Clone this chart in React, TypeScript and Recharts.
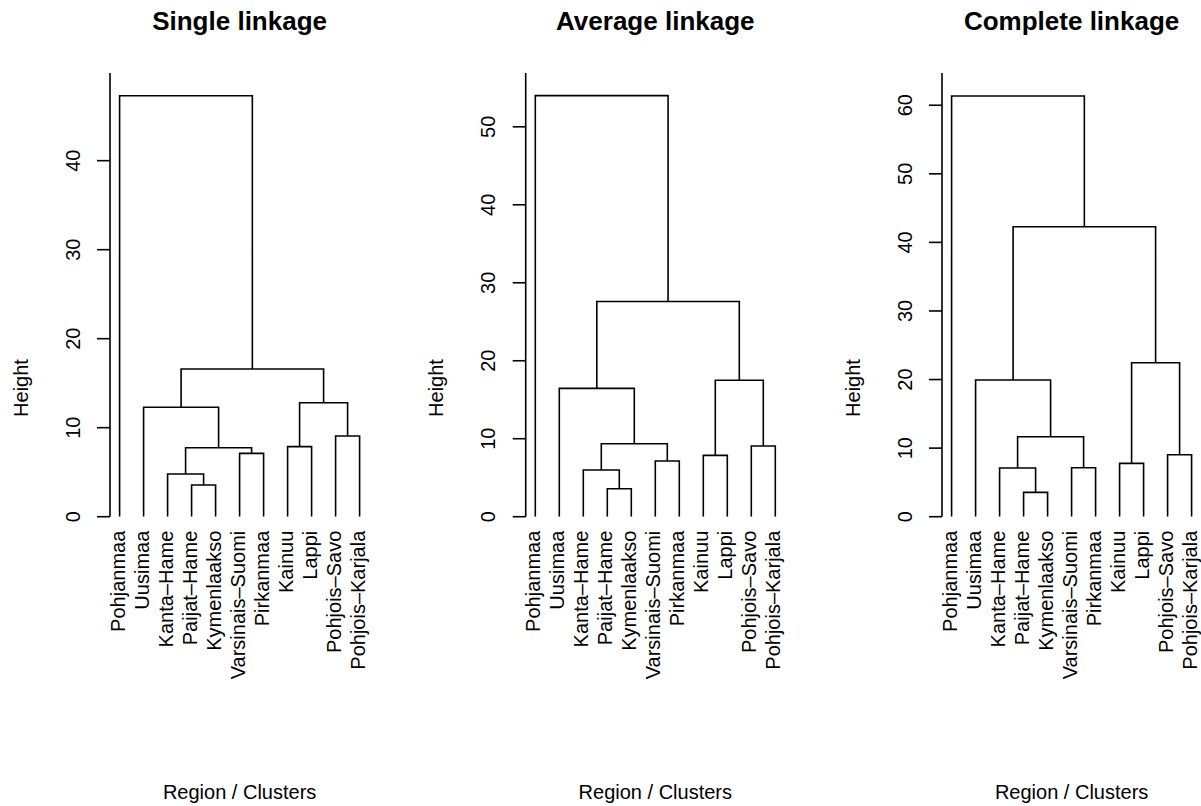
import React from 'react';
import { LineChart, Line, XAxis, YAxis } from 'recharts';

const FONT = '"Liberation Sans", Arial, Helvetica, sans-serif';

const LEAVES = ['Pohjanmaa','Uusimaa','Kanta–Hame','Paijat–Hame','Kymenlaakso','Varsinais–Suomi','Pirkanmaa','Kainuu','Lappi','Pohjois–Savo','Pohjois–Karjala'];
const LEAF_POS = [1,2,3,4,5,6,7,8,9,10,11];

// hclust-style merge table: negative = leaf (1-based position), positive = earlier merge row
const MERGE_A = [-4,-3,-6,-8,-10,2,-2,4,7,-1];
const MERGE_B = [-5,1,-7,-9,-11,3,6,5,8,9];

const SINGLE_H = [3.56,4.8,7.12,7.87,9.07,7.75,12.3,12.8,16.6,47.3];
const AVERAGE_H = [3.59,5.99,7.14,7.87,9.06,9.36,16.46,17.5,27.6,54.0];
const COMPLETE_H = [3.55,7.1,7.14,7.78,9.04,11.66,19.93,22.45,42.27,61.35];

const SINGLE_TICKS = [0,10,20,30,40];
const AVERAGE_TICKS = [0,10,20,30,40,50];
const COMPLETE_TICKS = [0,10,20,30,40,50,60];

const PANELS = [
  {title:'Single linkage',heights:SINGLE_H,ticks:SINGLE_TICKS,yMax:49.85,left:0,axisOff:110},
  {title:'Average linkage',heights:AVERAGE_H,ticks:AVERAGE_TICKS,yMax:56.9,left:400,axisOff:125.7},
  {title:'Complete linkage',heights:COMPLETE_H,ticks:COMPLETE_TICKS,yMax:64.7,left:800,axisOff:142},
];

const CH_W = 420, CH_H = 806, TOP = 73, PLOT_W = 259.2, PLOT_BOTTOM = 516.7, XAX_H = 30;

function segments(heights:number[]){
  const mid:number[] = [];
  const node = (r:number)=> r<0 ? {x:LEAF_POS[-r-1],y:0} : {x:mid[r-1],y:heights[r-1]};
  return heights.map((h,i)=>{
    const a = node(MERGE_A[i]), b = node(MERGE_B[i]);
    mid[i] = (a.x+b.x)/2;
    return [{x:a.x,y:a.y},{x:a.x,y:h},{x:b.x,y:h},{x:b.x,y:b.y}];
  });
}

const YTick = (p:any) => (
  <text x={p.x} y={p.y} transform={`rotate(-90 ${p.x} ${p.y})`} textAnchor="middle" fontSize={20} fill="#000" fontFamily={FONT}>{p.payload.value}</text>
);
const LeafTick = (p:any) => (
  <text x={p.x} y={p.y} transform={`rotate(-90 ${p.x} ${p.y})`} textAnchor="end" dy="0.25em" fontSize={20} fill="#000" fontFamily={FONT}>{LEAVES[p.payload.value-1]}</text>
);

function Dendro({panel}:{panel:any}){
  const segs = segments(panel.heights);
  return (
    <div style={{position:'absolute',left:panel.left,top:0}}>
      <LineChart width={CH_W} height={CH_H} margin={{top:TOP,left:panel.axisOff-60,right:CH_W-panel.axisOff-PLOT_W,bottom:CH_H-PLOT_BOTTOM-XAX_H}}>
        <XAxis type="number" dataKey="x" domain={[0.6,11.4]} ticks={LEAF_POS} interval={0} allowDataOverflow height={XAX_H}
          axisLine={false} tickLine={false} tickSize={0} tickMargin={14} tick={<LeafTick/>}/>
        <YAxis type="number" domain={[0,panel.yMax]} ticks={panel.ticks} interval={0} width={60} allowDataOverflow
          axisLine={{stroke:'#000',strokeWidth:1.6}} tickLine={{stroke:'#000',strokeWidth:1.6}} tickSize={13} tickMargin={17.4} tick={<YTick/>}/>
        {segs.map((s,i)=>(
          <Line key={i} data={s} dataKey="y" type="linear" stroke="#000" strokeWidth={1.6} dot={false} activeDot={false} isAnimationActive={false}/>
        ))}
      </LineChart>
    </div>
  );
}

export default function App(){
  return (
    <div style={{position:'relative',width:1201,height:806,overflow:'hidden',background:'#fff'}}>
      <style>{'body{margin:0}'}</style>
      {PANELS.map(p=><Dendro key={p.title} panel={p}/>)}
      <svg width={1201} height={806} style={{position:'absolute',left:0,top:0,pointerEvents:'none'}}>
        {PANELS.map(p=>{
          const ax = p.left+p.axisOff, cx = ax+PLOT_W/2, yx = ax-82.4;
          return (
            <g key={p.title} fontFamily={FONT} fill="#000">
              <text x={cx} y={30} textAnchor="middle" fontSize={26} fontWeight="bold">{p.title}</text>
              <text x={yx} y={388} transform={`rotate(-90 ${yx} 388)`} textAnchor="middle" fontSize={20}>Height</text>
              <text x={cx} y={799} textAnchor="middle" fontSize={20}>Region / Clusters</text>
            </g>
          );
        })}
      </svg>
    </div>
  );
}
